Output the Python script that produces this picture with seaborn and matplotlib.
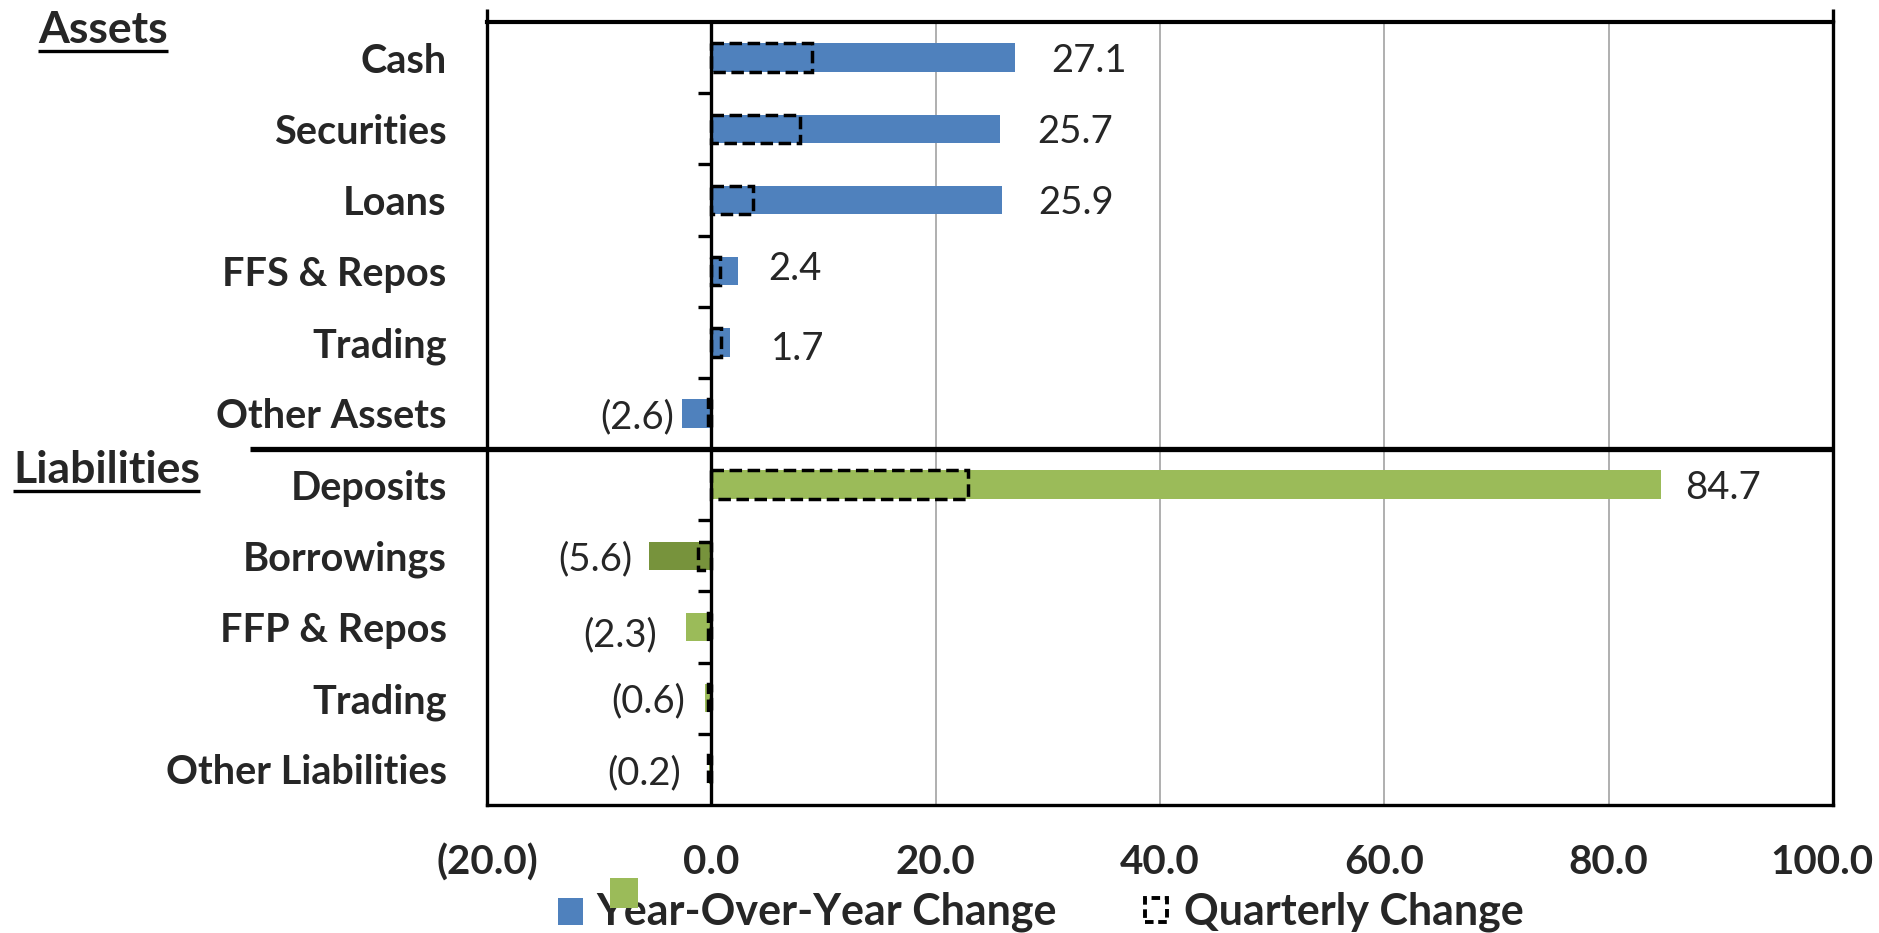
import matplotlib
matplotlib.use("Agg")
import numpy as np
import pandas as pd
import matplotlib.pyplot as plt
import matplotlib.transforms as mtransforms
from matplotlib.patches import Rectangle
from matplotlib.lines import Line2D
import seaborn as sns

# balance sheet items (Trading appears in both sections)
items = ["Cash", "Securities", "Loans", "FFS & Repos", "Trading", "Other Assets",
         "Deposits", "Borrowings", "FFP & Repos", "Trading", "Other Liabilities"]
sections = ["Assets"] * 6 + ["Liabilities"] * 5
yoy_change = [27.1, 25.7, 25.9, 2.4, 1.7, -2.6, 84.7, -5.6, -2.3, -0.6, -0.2]
qtr_change = [9.0, 7.9, 3.7, 0.8, 0.9, -0.3, 22.9, -1.2, -0.3, -0.3, -0.3]
x_ticks = [-20, 0, 20, 40, 60, 80, 100]

BLUE = "#4F81BD"
GREEN = "#9BBB59"
DARK_GREEN = "#77933C"
bar_colors = [BLUE] * 6 + [GREEN, DARK_GREEN, GREEN, GREEN, GREEN]

# label nudges (pixels) to mimic the hand placed excel labels
label_dx = [36, 38, 36, 30, 40, -8, 24, -16, -29, -19, -28]
label_dy = [0, 0, 0, 6, -3, 0, 0, 0, -5, 0, 0]


def fmt(v):
    return "{:.1f}".format(v) if v >= 0 else "({:.1f})".format(-v)


sns.set_style("white")
plt.rcParams["font.family"] = ["Lato", "DejaVu Sans"]

W, H = 1879, 933
fig = plt.figure(figsize=(W / 100, H / 100), dpi=100)
ax = fig.add_axes([487 / W, 1 - 805 / H, (1833 - 487) / W, (805 - 22) / H])

keys = ["{}_{}".format(s, i) for s, i in zip(sections, items)]
df = pd.DataFrame({"key": keys, "item": items, "yoy": yoy_change, "qtr": qtr_change})

sns.barplot(data=df, x="yoy", y="key", hue="key", palette=dict(zip(keys, bar_colors)),
            saturation=1, width=0.4, errorbar=None, legend=False, orient="h", ax=ax,
            linewidth=0, zorder=2)
n_bars = len(ax.patches)
sns.barplot(data=df, x="qtr", y="key", color="black", fill=False, width=0.4,
            errorbar=None, orient="h", ax=ax, linewidth=2.5, zorder=3)
for p in ax.patches[n_bars:]:
    p.set_facecolor("none")
    p.set_edgecolor("black")
    p.set_linestyle((0, (3.6, 1.6)))

ax.set_xlim(-20, 100)
ax.set_ylim(len(items) - 0.5, -0.5)
ax.set_xticks(x_ticks)
ax.set_xticklabels([fmt(t) for t in x_ticks], fontsize=29, fontweight="bold")
ax.set_yticks(range(len(items)))
ax.set_yticklabels(items, fontsize=28.5, fontweight="bold")
ax.tick_params(axis="x", length=0, pad=28)
ax.tick_params(axis="y", length=0, pad=29)
ax.set_xlabel("")
ax.set_ylabel("")
ax.xaxis.grid(True, color="#9a9a9a", linewidth=1.1, zorder=0)
ax.set_axisbelow(True)
for side in ["left", "right", "bottom"]:
    ax.spines[side].set_color("black")
    ax.spines[side].set_linewidth(2.4)
ax.spines["top"].set_color("black")
ax.spines["top"].set_linewidth(3.0)

# keep the last tick label inside the canvas
ax.get_xticklabels()[-1].set_horizontalalignment("right")
ax.get_xticklabels()[-1].set_x(100)
last = ax.get_xticklabels()[-1]
last.set_transform(last.get_transform() + mtransforms.ScaledTranslation(0.4, 0, fig.dpi_scale_trans))

# zero axis with its small ticks between the rows
ax.axvline(0, color="black", linewidth=2.4, zorder=4)
ax.hlines(np.arange(0.5, len(items) - 0.5, 1), -1.15, 0, color="black", linewidth=2.4, zorder=4)
# vertical frame lines poke out above the top line
for xv in [-20, 100]:
    ax.plot([xv, xv], [-0.5, -0.68], color="black", linewidth=2.4, clip_on=False,
            solid_capstyle="butt")

# assets / liabilities divider running into the label area
blend = mtransforms.blended_transform_factory(fig.transFigure, ax.transData)
ax.plot([250 / W, 1833 / W], [5.5, 5.5], color="black", linewidth=3.8, transform=blend,
        clip_on=False, solid_capstyle="butt", zorder=5)

for i, v in enumerate(yoy_change):
    ax.annotate(fmt(v), xy=(v, i), xytext=(label_dx[i], label_dy[i]),
                textcoords="offset pixels", ha="left" if v >= 0 else "right",
                va="center_baseline", fontsize=27.5)

# section headings, underlined
heads = []
for txt, x0, base in [("Assets", 38, 43), ("Liabilities", 13, 483)]:
    t = fig.text(x0 / W, 1 - base / H, txt, fontsize=32, fontweight="bold", va="baseline")
    heads.append((t, base))
fig.canvas.draw()
for t, base in heads:
    bb = t.get_window_extent()
    fig.add_artist(Line2D([bb.x0 / W, bb.x1 / W], [1 - (base + 8) / H] * 2,
                          color="black", linewidth=2.4, solid_capstyle="butt"))

# legend drawn by hand like the original
fig.text(596 / W, 1 - 925 / H, "Year-Over-Year Change", fontsize=31, fontweight="bold",
         va="baseline")
fig.text(1184 / W, 1 - 925 / H, "Quarterly Change", fontsize=31, fontweight="bold",
         va="baseline")
fig.add_artist(Rectangle((558 / W, 1 - 925 / H), 25 / W, 27 / H, facecolor=BLUE,
                         edgecolor="none", transform=fig.transFigure))
fig.add_artist(Rectangle((610 / W, 1 - 908 / H), 28 / W, 30 / H, facecolor=GREEN,
                         edgecolor="none", transform=fig.transFigure, zorder=5))
fig.add_artist(Rectangle((1145 / W, 1 - 922 / H), 22 / W, 24 / H, facecolor="none",
                         edgecolor="black", linewidth=2.8, linestyle=(0, (2.2, 1.2)),
                         transform=fig.transFigure))

fig.savefig("out.png", dpi=100)
